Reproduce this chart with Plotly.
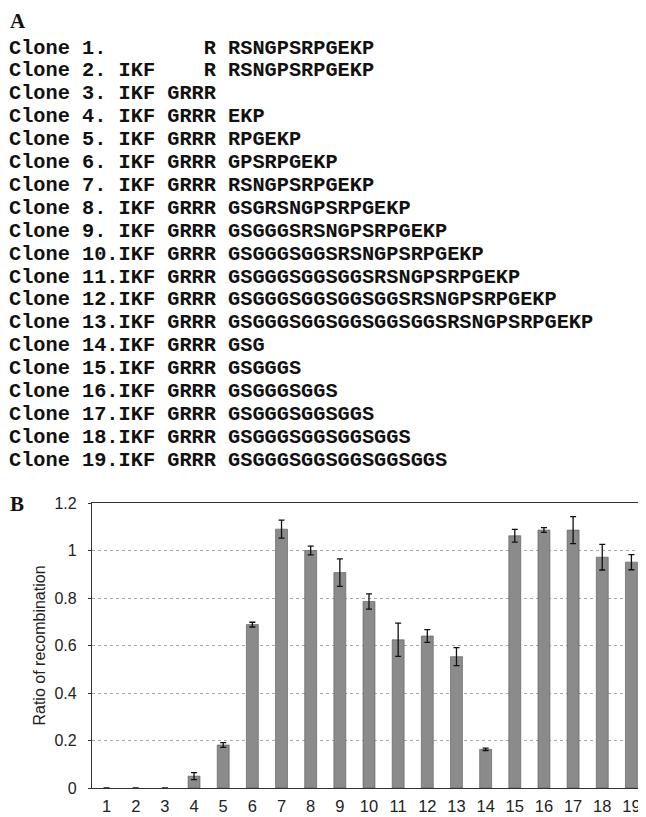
import plotly.graph_objects as go

# ---------------- data ----------------
clone_labels = ["Clone 1.", "Clone 2.", "Clone 3.", "Clone 4.", "Clone 5.", "Clone 6.",
                "Clone 7.", "Clone 8.", "Clone 9.", "Clone 10.", "Clone 11.", "Clone 12.",
                "Clone 13.", "Clone 14.", "Clone 15.", "Clone 16.", "Clone 17.", "Clone 18.",
                "Clone 19."]
ikf_part = ["", "IKF"] + ["IKF"] * 17
grrr_part = ["R", "R"] + ["GRRR"] * 17
linker_seq = ["RSNGPSRPGEKP", "RSNGPSRPGEKP", "", "EKP", "RPGEKP", "GPSRPGEKP",
              "RSNGPSRPGEKP", "GSGRSNGPSRPGEKP", "GSGGGSRSNGPSRPGEKP",
              "GSGGGSGGSRSNGPSRPGEKP", "GSGGGSGGSGGSRSNGPSRPGEKP",
              "GSGGGSGGSGGSGGSRSNGPSRPGEKP", "GSGGGSGGSGGSGGSGGSRSNGPSRPGEKP",
              "GSG", "GSGGGS", "GSGGGSGGS", "GSGGGSGGSGGS", "GSGGGSGGSGGSGGS",
              "GSGGGSGGSGGSGGSGGS"]

categories = [str(i) for i in range(1, 20)]
ratio = [0, 0, 0, 0.05, 0.181, 0.688, 1.09, 1.0, 0.907, 0.785, 0.624, 0.64, 0.553,
         0.163, 1.062, 1.086, 1.086, 0.972, 0.951]
ratio_err = [0, 0, 0, 0.015, 0.01, 0.01, 0.038, 0.018, 0.058, 0.032, 0.07, 0.027, 0.038,
             0.005, 0.027, 0.01, 0.057, 0.054, 0.032]
y_ticks = [0, 0.2, 0.4, 0.6, 0.8, 1, 1.2]
y_tick_text = ["0", "0.2", "0.4", "0.6", "0.8", "1", "1.2"]

# ---------------- layout geometry (pixels) ----------------
OFF = 8                      # page body margin
W, H = 646 - OFF, 817 - OFF  # figure size so it ends at the window edge
PLOT_LEFT, PLOT_TOP, PLOT_BOTTOM = 92, 503, 788   # page coordinates
L = PLOT_LEFT - OFF
T = PLOT_TOP - OFF
B = H - (PLOT_BOTTOM - OFF)
R = 0
plot_w = W - L - R
plot_h = H - T - B


def px_x(px):
    return (px - PLOT_LEFT) / plot_w


def px_y(py):
    return (PLOT_BOTTOM - py) / plot_h


# nothing drawn where there is no bar
err_shown = [e if v > 0 else None for v, e in zip(ratio, ratio_err)]
outline_w = [0.6 if v > 0 else 0 for v in ratio]

fig = go.Figure()
fig.add_trace(go.Bar(
    x=categories, y=ratio,
    marker=dict(color="#8b8b8b", line=dict(color="#555555", width=outline_w)),
    error_y=dict(type="data", array=err_shown, visible=True, color="#111111",
                 thickness=1.3, width=3),
    showlegend=False,
))

annotations = []
letter_font = dict(family="Liberation Serif, Times New Roman, serif", size=21, color="#111")
annotations.append(dict(text="<b>A</b>", x=px_x(8), y=px_y(21), xref="paper", yref="paper",
                        xanchor="left", yanchor="middle", showarrow=False, font=letter_font))
annotations.append(dict(text="<b>B</b>", x=px_x(8), y=px_y(504), xref="paper", yref="paper",
                        xanchor="left", yanchor="middle", showarrow=False, font=letter_font))

# clone sequence rows
row0, row_step = 48, 22.9
for i, (lab, ikf, gr, seq) in enumerate(zip(clone_labels, ikf_part, grrr_part, linker_seq)):
    line = lab.ljust(9) + ikf.ljust(3) + " " + gr.rjust(4) + (" " + seq if seq else "")
    line = line.rstrip().replace(" ", "\u00a0")
    annotations.append(dict(
        text="<b>" + line + "</b>", x=px_x(7), y=px_y(row0 + i * row_step),
        xref="paper", yref="paper", xanchor="left", yanchor="middle", showarrow=False,
        font=dict(family="Courier New, Liberation Mono, monospace", size=20.3, color="#111"),
    ))

fig.update_layout(
    width=W, height=H,
    margin=dict(l=L, r=R, t=T, b=B, autoexpand=False),
    paper_bgcolor="white", plot_bgcolor="white",
    bargap=0.59,
    annotations=annotations,
    font=dict(family="Liberation Sans, Arial, sans-serif", color="#222"),
)
fig.update_xaxes(
    showline=True, linecolor="#333", linewidth=1.2, mirror=True,
    showgrid=False, ticks="", tickfont=dict(size=16.5, color="#222"),
    ticklabelstandoff=3,
)
fig.update_yaxes(
    range=[0, 1.2], tickvals=y_ticks, ticktext=y_tick_text,
    showline=True, linecolor="#333", linewidth=1.2, mirror=False,
    showgrid=True, gridcolor="#a8a8a8", griddash="dot", gridwidth=1,
    ticks="outside", ticklen=3, tickcolor="#333",
    tickfont=dict(size=16, color="#222"), ticklabelstandoff=8,
    zeroline=False,
    title=dict(text="Ratio of recombination", font=dict(size=16, color="#222"), standoff=4),
)

fig.write_html("out.html")
